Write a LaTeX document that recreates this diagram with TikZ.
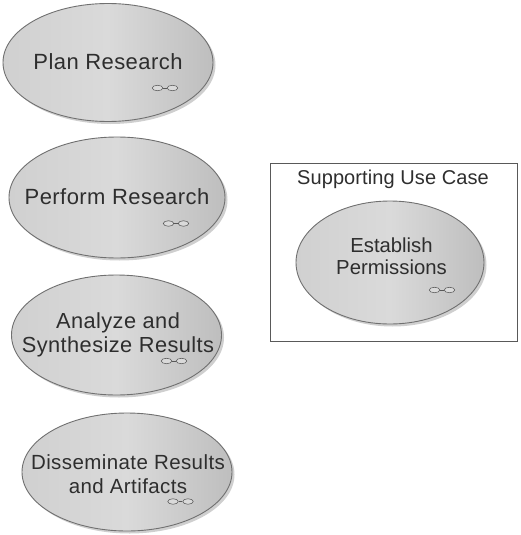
\documentclass[tikz,border=0pt]{standalone}
\usepackage{fontspec}
\setmainfont{Liberation Sans}
\usetikzlibrary{shapes.geometric}
\definecolor{ink}{HTML}{2E2E2E}
\definecolor{edge}{HTML}{707070}
\definecolor{caseleft}{HTML}{D0D0D0}
\definecolor{casemid}{HTML}{DADADA}
\definecolor{caseright}{HTML}{BEBEBE}
\definecolor{caseshade}{HTML}{CFCFCF}
\tikzset{
  x=1pt,y=-1pt,
  usecase/.style={ellipse,draw=edge,line width=0.9pt,inner sep=0pt,
    left color=caseleft,right color=caseright,middle color=casemid},
  shade under/.style={ellipse,fill=caseshade,inner sep=0pt,draw=none},
  casetext/.style={text=ink,align=center,inner sep=0pt},
  large text/.style={casetext,font=\fontsize{#1}{24}\selectfont\addfontfeatures{LetterSpace=2}},
  collab/.style={ellipse,draw=black!65,fill=casemid,line width=0.55pt,minimum width=10.5pt,minimum height=5.5pt,inner sep=0pt},
  collabline/.style={draw=black!65,line width=0.55pt},
  frameline/.style={draw=black!65,line width=0.9pt}
}
\newcommand{\usecasebubble}[5]{%
  \node[shade under,minimum width=#4pt,minimum height=#5pt] at (#2+2.5,#3+2.5) {};
  \node[usecase,minimum width=#4pt,minimum height=#5pt] (#1) at (#2,#3) {};
}
\newcommand{\collabmark}[3]{%
  \node[collab] (#1l) at (#2-7.5,#3) {};
  \node[collab] (#1r) at (#2+7.5,#3) {};
  \draw[collabline] (#1l) -- (#1r);
}
\begin{document}
\begin{tikzpicture}
\useasboundingbox (0,0) rectangle (520,535);
\fill[white] (0,0) rectangle (520,535);
\node[frameline,draw,minimum width=247pt,minimum height=178pt,inner sep=0pt] (frame) at (393.5,252) {};
\node[casetext,font=\fontsize{20}{22}\selectfont\addfontfeatures{LetterSpace=0.5}] (frametitle) at (393,179) {Supporting Use Case};
\usecasebubble{plan}{108}{62.5}{210}{118}
\usecasebubble{perform}{117}{197.5}{216}{121}
\usecasebubble{analyze}{116.5}{335}{210}{120}
\usecasebubble{dissem}{127}{472}{210}{118}
\usecasebubble{perm}{390}{262.5}{188}{123}
\node[large text=22] (plant) at (108,62) {Plan Research};
\node[large text=22] (performt) at (117,197) {Perform Research};
\node[large text=21.8] (analyzet) at (118,334.5) {Analyze and\\Synthesize Results};
\node[large text=20.5] (dissemt) at (128,474.5) {Disseminate Results\\and Artifacts};
\node[casetext,font=\fontsize{20.3}{22.5}\selectfont] (permt) at (391.5,256) {Establish\\Permissions};
\collabmark{a}{165}{88}
\collabmark{b}{176}{223.5}
\collabmark{c}{174}{361}
\collabmark{d}{180.5}{501.5}
\collabmark{e}{442}{290}
\end{tikzpicture}
\end{document}
